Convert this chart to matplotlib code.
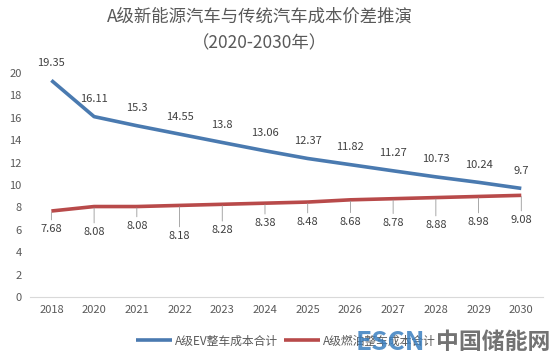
import matplotlib
matplotlib.use("Agg")
import matplotlib.pyplot as plt

plt.rcParams['font.family'] = ['Noto Sans CJK SC', 'DejaVu Sans']

### data ###
years = ['2018', '2020', '2021', '2022', '2023', '2024', '2025',
         '2026', '2027', '2028', '2029', '2030']
ev_cost = [19.35, 16.11, 15.3, 14.55, 13.8, 13.06, 12.37,
           11.82, 11.27, 10.73, 10.24, 9.7]
fuel_cost = [7.68, 8.08, 8.08, 8.18, 8.28, 8.38, 8.48,
             8.68, 8.78, 8.88, 8.98, 9.08]
ev_name = 'A级EV整车成本合计'
fuel_name = 'A级燃油整车成本合计'
title = 'A级新能源汽车与传统汽车成本价差推演\n（2020-2030年）'

# offsets of the data labels (points) below the red line
fuel_drop = [-13, -18.4, -14, -22, -18.7, -14.4, -14.4, -15.8, -17.3, -19.8, -18.4, -17.8]

txt = '#404040'
blue = '#4a7ab0'
red = '#b84a4a'

fig = plt.figure(figsize=(5.56, 3.6), dpi=100)
ax = fig.add_axes([0.054, 0.175, 0.922, 0.622])

x = list(range(len(years)))
ax.plot(x, ev_cost, color=blue, lw=2.6, label=ev_name, solid_capstyle='butt')
ax.plot(x, fuel_cost, color=red, lw=2.6, label=fuel_name, solid_capstyle='butt')

for i, v in enumerate(ev_cost):
    ax.annotate(str(v), (i, v), xytext=(0, 9), textcoords='offset points',
                ha='center', va='bottom', fontsize=8, color=txt)
for i, v in enumerate(fuel_cost):
    ax.annotate(str(v), (i, v), xytext=(0, fuel_drop[i]), textcoords='offset points',
                ha='center', va='center', fontsize=8, color=txt,
                arrowprops=dict(arrowstyle='-', color='#999999', lw=0.6,
                                shrinkA=1, shrinkB=1))

ax.set_xlim(-0.5, len(years) - 0.5)
ax.set_ylim(0, 20)
ax.set_yticks(range(0, 21, 2))
ax.set_xticks(x)
ax.set_xticklabels(years)
ax.tick_params(length=0, labelsize=8, colors='#595959', pad=6)
for s in ['top', 'right', 'left']:
    ax.spines[s].set_visible(False)
ax.spines['bottom'].set_color('#d9d9d9')

fig.text(0.467, 0.978, title, ha='center', va='top', fontsize=12.5,
         color='#595959', linespacing=1.6)

ax.legend(loc='upper center', bbox_to_anchor=(0.5, -0.12), ncol=2, frameon=False,
          fontsize=8.5, labelcolor='#595959', handlelength=3.0, columnspacing=0.5,
          handletextpad=0.3)

# watermark
fig.text(0.765, 0.048, 'ESCN', ha='right', va='center', fontsize=19,
         fontweight='bold', color='#3a7fc0', alpha=0.85)
fig.text(0.99, 0.048, '中国储能网', ha='right', va='center', fontsize=16.5,
         fontweight='bold', color='#5a5a5a', alpha=0.85)

plt.savefig('out.png', dpi=100)
